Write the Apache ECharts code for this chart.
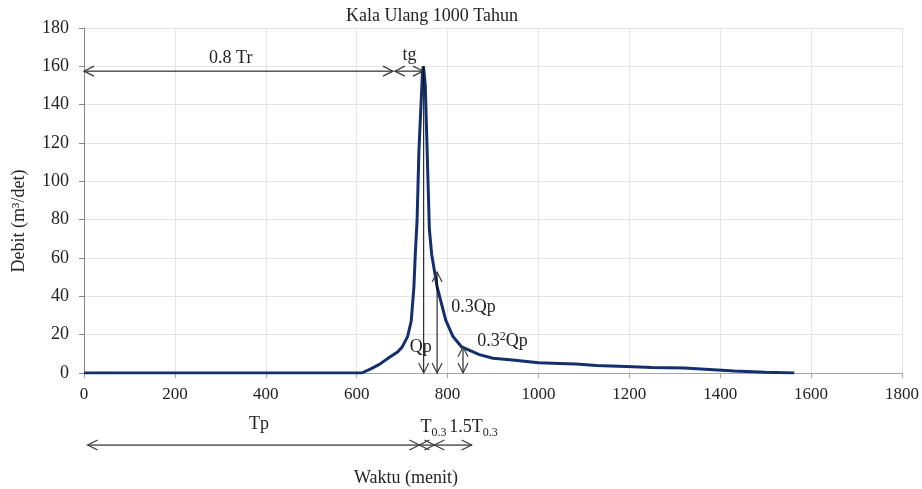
<!DOCTYPE html>
<html>
<head>
<meta charset="utf-8">
<script src="https://cdn.jsdelivr.net/npm/echarts@6/dist/echarts.min.js"></script>
<style>
  html, body { margin: 0; padding: 0; background: #fff; }
  #chart { width: 922px; height: 489px; }
</style>
</head>
<body>
<div id="chart"></div>
<script>
// hidrograf kala ulang 1000 tahun
const time  = [0, 600, 611, 630, 650, 673, 690, 700, 712, 720, 726, 729, 733, 737, 745,
               747, 751, 760, 765, 777, 796, 812, 831, 870, 900, 943, 1000, 1046, 1083,
               1127, 1193, 1250, 1321, 1376, 1431, 1500, 1563]
const debit = [0, 0, 0, 2, 4.5, 8.3, 11, 13.5, 19, 27, 45, 62, 80, 116, 158,
               160, 150, 75, 62, 45, 27.6, 19, 13.6, 9.6, 7.7, 6.8, 5.3, 5.0, 4.7,
               3.9, 3.4, 2.9, 2.6, 1.8, 1.0, 0.4, 0]

const xTicks = [0, 1800, 200]
const yTicks = [0, 180, 20]

// panah dimensi: x1, y1, x2, y2, kepala (1 = di ujung, 2 = kedua ujung)
const dimArrows = [
  [0, 157.5, 680, 157.5, 2],
  [684, 157.5, 746, 157.5, 2],
  [747.5, 160, 747.5, 0, 1],
  [777, 52.7, 777, 0, 2],
  [834, 13.7, 834, 0, 2],
  [8, -37.6, 738, -37.6, 2],
  [738, -37.6, 771, -37.6, 2],
  [771, -37.6, 853, -37.6, 2]
]

// keterangan
const noteText = ['0.8 Tr', 'tg', 'Qp', '0.3Qp', '{n|0.3}{sup|2}{n|Qp}',
                  'Tp', '{n|T}{sub|0.3}', '{n|1.5T}{sub|0.3}']
const noteAt = [[323, 164], [716, 166], [741, 13.6], [857, 34.4], [921, 16.4],
                [385, -27], [769, -28.5], [857, -28.5]]

const FONT = "'Liberation Serif', 'Times New Roman', serif"
const INK = '#222'

const richStyle = {
  n:   { fontSize: 18, fontFamily: FONT, fill: INK, color: INK, lineHeight: 22, verticalAlign: 'middle' },
  sup: { fontSize: 12, fontFamily: FONT, fill: INK, color: INK, lineHeight: 22, verticalAlign: 'top' },
  sub: { fontSize: 12, fontFamily: FONT, fill: INK, color: INK, lineHeight: 22, verticalAlign: 'bottom' }
}

function chevron (tip, from) {
  const dx = tip[0] - from[0]
  const dy = tip[1] - from[1]
  const len = Math.sqrt(dx * dx + dy * dy) || 1
  const ux = dx / len
  const uy = dy / len
  const nx = -uy
  const ny = ux
  return {
    type: 'polyline',
    shape: { points: [
      [tip[0] - ux * 10 + nx * 5, tip[1] - uy * 10 + ny * 5],
      tip,
      [tip[0] - ux * 10 - nx * 5, tip[1] - uy * 10 - ny * 5]
    ] },
    style: { stroke: '#3a3a3a', lineWidth: 1.2, fill: null }
  }
}

function renderArrow (params, api) {
  const p1 = api.coord([api.value(0), api.value(1)])
  const p2 = api.coord([api.value(2), api.value(3)])
  const heads = api.value(4)
  const children = [{
    type: 'line',
    shape: { x1: p1[0], y1: p1[1], x2: p2[0], y2: p2[1] },
    style: { stroke: '#000', lineWidth: 1 }
  }]
  children.push(chevron(p2, p1))
  if (heads === 2) children.push(chevron(p1, p2))
  return { type: 'group', children: children }
}

function renderNote (params, api) {
  const p = api.coord([api.value(0), api.value(1)])
  const txt = noteText[params.dataIndex]
  const isRich = txt.indexOf('{') >= 0
  return {
    type: 'text',
    x: p[0],
    y: p[1],
    style: {
      text: isRich ? txt : '{n|' + txt + '}',
      rich: richStyle,
      align: 'center',
      verticalAlign: 'middle',
      textAlign: 'center',
      textVerticalAlign: 'middle'
    }
  }
}

const chart = echarts.init(document.getElementById('chart'), null, { renderer: 'canvas' })

chart.setOption({
  animation: false,
  backgroundColor: '#fff',
  grid: { left: 84, right: 19, top: 28, bottom: 116 },
  graphic: [
    {
      type: 'text', x: 432, y: 16,
      style: { text: 'Kala Ulang 1000 Tahun', font: '18px ' + FONT, fill: INK,
        align: 'center', verticalAlign: 'middle', textAlign: 'center', textVerticalAlign: 'middle' }
    },
    {
      type: 'text', x: 406, y: 478,
      style: { text: 'Waktu (menit)', font: '18px ' + FONT, fill: INK,
        align: 'center', verticalAlign: 'middle', textAlign: 'center', textVerticalAlign: 'middle' }
    },
    {
      type: 'text', x: 19, y: 221, rotation: Math.PI / 2,
      style: { text: 'Debit (m³/det)', font: '18px ' + FONT, fill: INK,
        align: 'center', verticalAlign: 'middle', textAlign: 'center', textVerticalAlign: 'middle' }
    }
  ],
  xAxis: {
    type: 'value',
    min: xTicks[0],
    max: xTicks[1],
    interval: xTicks[2],
    axisLine: { show: true, onZero: false, lineStyle: { color: '#a6a6a6', width: 1 } },
    axisTick: { show: true, length: 5, lineStyle: { color: '#a6a6a6' } },
    axisLabel: { margin: 13, color: INK, fontSize: 17, fontFamily: FONT, formatter: v => String(v) },
    splitLine: { show: true, lineStyle: { color: '#e4e4e4', width: 1 } }
  },
  yAxis: {
    type: 'value',
    min: yTicks[0],
    max: yTicks[1],
    interval: yTicks[2],
    axisLine: { show: true, lineStyle: { color: '#868686', width: 1 } },
    axisTick: { show: true, length: 5, lineStyle: { color: '#868686' } },
    axisLabel: { margin: 15, color: INK, fontSize: 18, fontFamily: FONT, formatter: v => String(v) },
    splitLine: { show: true, lineStyle: { color: '#e4e4e4', width: 1 } }
  },
  series: [
    {
      name: 'Debit',
      type: 'line',
      data: time.map((t, i) => [t, debit[i]]),
      showSymbol: false,
      smooth: false,
      lineStyle: { color: '#13306c', width: 3 },
      z: 3
    },
    {
      name: 'dimensi',
      type: 'custom',
      renderItem: renderArrow,
      data: dimArrows,
      encode: { x: [0, 2], y: [1, 3] },
      clip: false,
      silent: true,
      z: 4
    },
    {
      name: 'keterangan',
      type: 'custom',
      renderItem: renderNote,
      data: noteAt,
      encode: { x: 0, y: 1 },
      clip: false,
      silent: true,
      z: 5
    }
  ]
})
</script>
</body>
</html>
